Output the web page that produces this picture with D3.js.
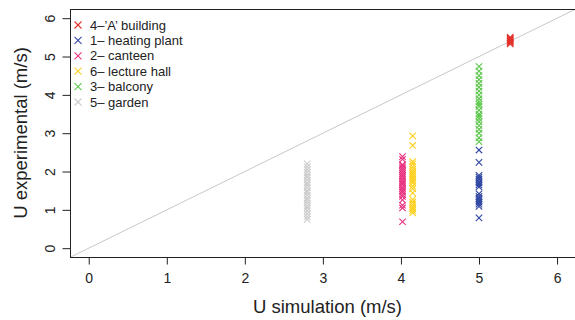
<!DOCTYPE html>
<html>
<head>
<meta charset="utf-8">
<script src="https://cdn.jsdelivr.net/npm/d3@7"></script>
<style>
body{margin:0;background:#fff;}
text{font-family:"Liberation Sans",Arial,Helvetica,sans-serif;fill:#222;}
</style>
</head>
<body>
<script>
var groups=["4\u2013\u2019A\u2019 building","1\u2013 heating plant","2\u2013 canteen","6\u2013 lecture hall","3\u2013 balcony","5\u2013 garden"]
var colors=["#e2332c","#2f45a3","#e8307f","#fccf1c","#5ec84d","#cccccc"]
var simX=[5.4,5.0,4.02,4.15,5.0,2.8]
var expA=[5.33,5.36,5.38,5.4,5.42,5.44,5.46,5.48,5.5]
var expHeating=[0.79,1.09,1.15,1.2,1.25,1.3,1.35,1.42,1.6,1.65,1.7,1.74,1.8,1.85,1.9,2.24,2.56]
var expCanteen=[0.69,1.05,1.12,1.26,1.35,1.4,1.46,1.5,1.55,1.6,1.66,1.7,1.75,1.8,1.86,1.9,1.95,2.0,2.05,2.1,2.15,2.18,2.32,2.39]
var expLecture=[0.92,0.98,1.03,1.08,1.14,1.2,1.27,1.44,1.55,1.62,1.7,1.75,1.8,1.85,1.9,1.95,2.0,2.05,2.12,2.2,2.26,2.68,2.93]
var expBalcony=[2.78,2.88,3.0,3.1,3.2,3.3,3.38,3.45,3.5,3.6,3.7,3.76,3.82,3.9,4.0,4.1,4.2,4.3,4.4,4.5,4.62,4.74]
var expGarden=[0.75,0.82,0.9,0.98,1.05,1.1,1.18,1.25,1.3,1.38,1.45,1.5,1.58,1.65,1.7,1.78,1.85,1.9,1.98,2.05,2.12,2.2]
var allExp=[expA,expHeating,expCanteen,expLecture,expBalcony,expGarden]
var ticks=[0,1,2,3,4,5,6]
var W=575,H=320
var box={l:70,r:575,t:9,b:257}

var svg=d3.select("body").append("svg")
  .attr("width",W).attr("height",H)

var x=d3.scaleLinear().domain([-0.24,6.23]).range([box.l,box.r])
var y=d3.scaleLinear().domain([-0.23,6.24]).range([box.b,box.t])

svg.append("defs").append("clipPath").attr("id","clip")
  .append("rect").attr("x",box.l).attr("y",box.t)
  .attr("width",box.r-box.l).attr("height",box.b-box.t)

// 1:1 line
svg.append("line")
  .attr("clip-path","url(#clip)")
  .attr("x1",x(-0.3)).attr("y1",y(-0.3))
  .attr("x2",x(6.3)).attr("y2",y(6.3))
  .attr("stroke","#c8c8c8").attr("stroke-width",1)

// points
var pts=[]
allExp.forEach(function(arr,i){
  arr.forEach(function(v){
    pts.push({g:i,x:simX[i],y:v})
  })
})
function cross(sel,s){
  sel.append("line").attr("x1",-s).attr("y1",-s).attr("x2",s).attr("y2",s)
  sel.append("line").attr("x1",-s).attr("y1",s).attr("x2",s).attr("y2",-s)
}
var marks=svg.append("g").attr("clip-path","url(#clip)")
  .selectAll("g.pt").data(pts).enter().append("g")
  .attr("class","pt")
  .attr("transform",function(d){return "translate("+x(d.x)+","+y(d.y)+")"})
  .attr("stroke",function(d){return colors[d.g]})
  .attr("stroke-width",1.1)
marks.call(cross,3.2)

// box
svg.append("rect")
  .attr("x",box.l+0.5).attr("y",box.t+0.5)
  .attr("width",box.r-box.l).attr("height",box.b-box.t)
  .attr("fill","none").attr("stroke","#222").attr("stroke-width",1)

// x axis
var xa=svg.append("g").attr("transform","translate(0,"+(box.b+0.5)+")")
  .call(d3.axisBottom(x).tickValues(ticks).tickSize(7).tickPadding(9).tickFormat(d3.format("d")))
xa.select(".domain").remove()
xa.selectAll("line").attr("stroke","#222")
xa.selectAll("text").style("font-size","14px").attr("fill","#222")

// y axis
var ya=svg.append("g").attr("transform","translate("+(box.l+0.5)+",0)")
  .call(d3.axisLeft(y).tickValues(ticks).tickSize(8).tickPadding(0).tickFormat(d3.format("d")))
ya.select(".domain").remove()
ya.selectAll("line").attr("stroke","#222")
ya.selectAll("text").remove()
ya.selectAll(".tick").append("text")
  .attr("transform","translate(-20,0) rotate(-90)")
  .attr("text-anchor","middle").attr("dy","0.35em")
  .style("font-size","14px")
  .text(function(d){return d})

// titles
svg.append("text").attr("x",(box.l+box.r)/2+5).attr("y",313)
  .attr("text-anchor","middle").style("font-size","18.5px")
  .text("U simulation (m/s)")
svg.append("text")
  .attr("transform","translate(27,"+((box.t+box.b)/2)+") rotate(-90)")
  .attr("text-anchor","middle").style("font-size","18.5px")
  .text("U experimental (m/s)")

// legend
var lg=svg.append("g").selectAll("g").data(groups).enter().append("g")
  .attr("transform",function(d,i){return "translate(78,"+(25+i*15.4)+")"})
lg.append("g").attr("stroke",function(d,i){return colors[i]}).attr("stroke-width",1.1)
  .call(cross,3.5)
lg.append("text").attr("x",12).attr("dy","0.36em")
  .style("font-size","13px")
  .text(function(d){return d})
</script>
</body>
</html>
